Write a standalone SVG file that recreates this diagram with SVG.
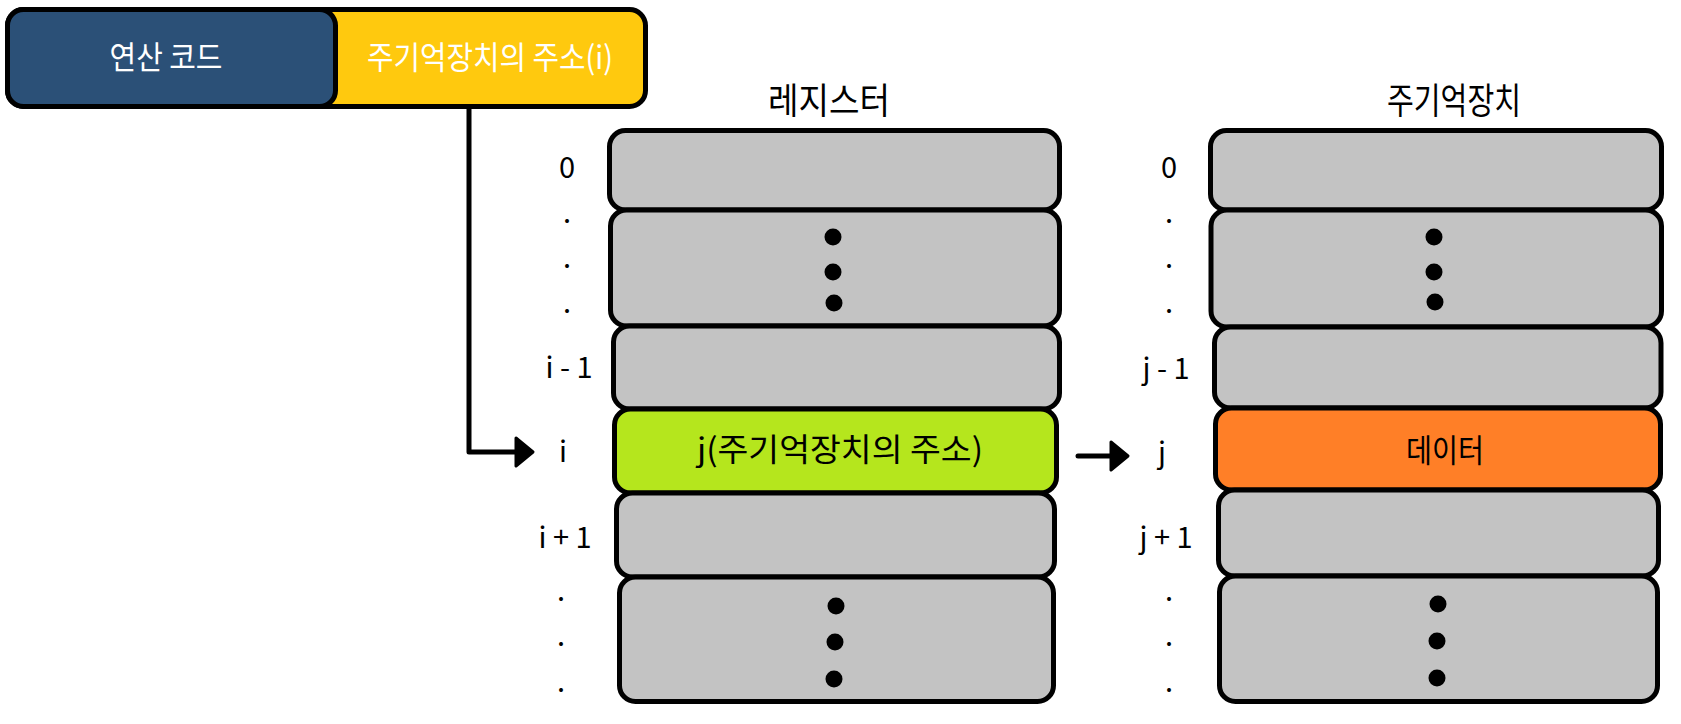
<svg xmlns="http://www.w3.org/2000/svg" width="1681" height="724" viewBox="0 0 1681 724">
<style>
  .t { font-family: "Noto Sans CJK KR", "Noto Sans", sans-serif; }
  .box { stroke: #000; stroke-width: 5; }
  .gray { fill: #C3C3C3; }
  .lbl { font-size: 29px; fill: #000; text-anchor: middle; }
  .ttl { font-size: 36px; fill: #000; text-anchor: middle; }
  .in { font-size: 32px; text-anchor: middle; }
  .conn { stroke: #000; stroke-width: 5; fill: none; }
</style>
<defs>
  <marker id="ah" markerUnits="userSpaceOnUse" markerWidth="30" markerHeight="40" viewBox="-3 -20 26 40" refX="0" refY="0" orient="auto">
    <path d="M0,-14 L17,0 L0,14 Z" fill="#000" stroke="#000" stroke-width="3" stroke-linejoin="round"/>
  </marker>
</defs>
<rect width="1681" height="724" fill="#fff"/>

<g id="instruction">
  <rect class="box" x="7.5" y="9.5" width="638" height="97" rx="16" fill="#FFC90E"/>
  <rect class="box" x="7.5" y="9.5" width="328" height="97" rx="16" fill="#2B5077"/>
  <text class="t in" x="166" y="69" fill="#fff" textLength="113" lengthAdjust="spacingAndGlyphs">연산 코드</text>
  <text class="t in" x="490" y="69" fill="#fff" textLength="246" lengthAdjust="spacingAndGlyphs">주기억장치의 주소(i)</text>
</g>

<g id="register">
  <text class="t ttl" x="829" y="114" textLength="122" lengthAdjust="spacingAndGlyphs">레지스터</text>
  <g id="reg-0"><rect class="box gray" x="609.5" y="130.5" width="450" height="79.5" rx="16"/></g>
  <g id="reg-dots1">
    <rect class="box gray" x="610.5" y="210" width="449" height="116" rx="16"/>
    <circle cx="833" cy="237" r="8.5"/><circle cx="833" cy="272" r="8.5"/><circle cx="834" cy="303" r="8.5"/>
  </g>
  <g id="reg-i-1"><rect class="box gray" x="613.5" y="326" width="446" height="83" rx="16"/></g>
  <g id="reg-i">
    <rect class="box" x="614.5" y="409" width="442" height="84" rx="16" fill="#B5E61D"/>
    <text class="t in" x="840" y="461" fill="#000" textLength="286" lengthAdjust="spacingAndGlyphs">j(주기억장치의 주소)</text>
  </g>
  <g id="reg-i+1"><rect class="box gray" x="616.5" y="493" width="438" height="84" rx="16"/></g>
  <g id="reg-dots2">
    <rect class="box gray" x="619.5" y="577" width="434" height="124.5" rx="16"/>
    <circle cx="836" cy="606" r="8.5"/><circle cx="835" cy="642" r="8.5"/><circle cx="834" cy="679" r="8.5"/>
  </g>
  <g id="reg-labels">
    <text class="t lbl" x="567" y="178">0</text>
    <text class="t lbl" x="567" y="223">.</text>
    <text class="t lbl" x="567" y="268">.</text>
    <text class="t lbl" x="567" y="313">.</text>
    <text class="t lbl" x="569" y="378">i - 1</text>
    <text class="t lbl" x="563" y="462">i</text>
    <text class="t lbl" x="565" y="548">i + 1</text>
    <text class="t lbl" x="561" y="601">.</text>
    <text class="t lbl" x="561" y="646">.</text>
    <text class="t lbl" x="561" y="692">.</text>
  </g>
</g>

<g id="memory">
  <text class="t ttl" x="1454" y="114" textLength="134" lengthAdjust="spacingAndGlyphs">주기억장치</text>
  <g id="mem-0"><rect class="box gray" x="1210.5" y="130.5" width="451" height="79.5" rx="16"/></g>
  <g id="mem-dots1">
    <rect class="box gray" x="1211" y="210" width="450.5" height="117" rx="16"/>
    <circle cx="1434" cy="237" r="8.5"/><circle cx="1434" cy="272" r="8.5"/><circle cx="1435" cy="302" r="8.5"/>
  </g>
  <g id="mem-j-1"><rect class="box gray" x="1214.5" y="327" width="446.5" height="81" rx="16"/></g>
  <g id="mem-j">
    <rect class="box" x="1215.5" y="408" width="445" height="82" rx="16" fill="#FF7F27"/>
    <text class="t in" x="1445" y="462" fill="#000" textLength="78" lengthAdjust="spacingAndGlyphs">데이터</text>
  </g>
  <g id="mem-j+1"><rect class="box gray" x="1218.5" y="490" width="440" height="86" rx="16"/></g>
  <g id="mem-dots2">
    <rect class="box gray" x="1219.5" y="576" width="438" height="125.5" rx="16"/>
    <circle cx="1438" cy="604" r="8.5"/><circle cx="1437" cy="641" r="8.5"/><circle cx="1437" cy="678" r="8.5"/>
  </g>
  <g id="mem-labels">
    <text class="t lbl" x="1169" y="178">0</text>
    <text class="t lbl" x="1169" y="223">.</text>
    <text class="t lbl" x="1169" y="268">.</text>
    <text class="t lbl" x="1169" y="313">.</text>
    <text class="t lbl" x="1166" y="379">j - 1</text>
    <text class="t lbl" x="1162" y="463">j</text>
    <text class="t lbl" x="1166" y="548">j + 1</text>
    <text class="t lbl" x="1169" y="601">.</text>
    <text class="t lbl" x="1169" y="646">.</text>
    <text class="t lbl" x="1169" y="692">.</text>
  </g>
</g>

<g id="connectors">
  <path class="conn" d="M469,108 L469,452 L516,452" stroke-linejoin="round" marker-end="url(#ah)"/>
  <path class="conn" d="M1078,456 L1111,456" stroke-linecap="round" marker-end="url(#ah)"/>
</g>
</svg>
